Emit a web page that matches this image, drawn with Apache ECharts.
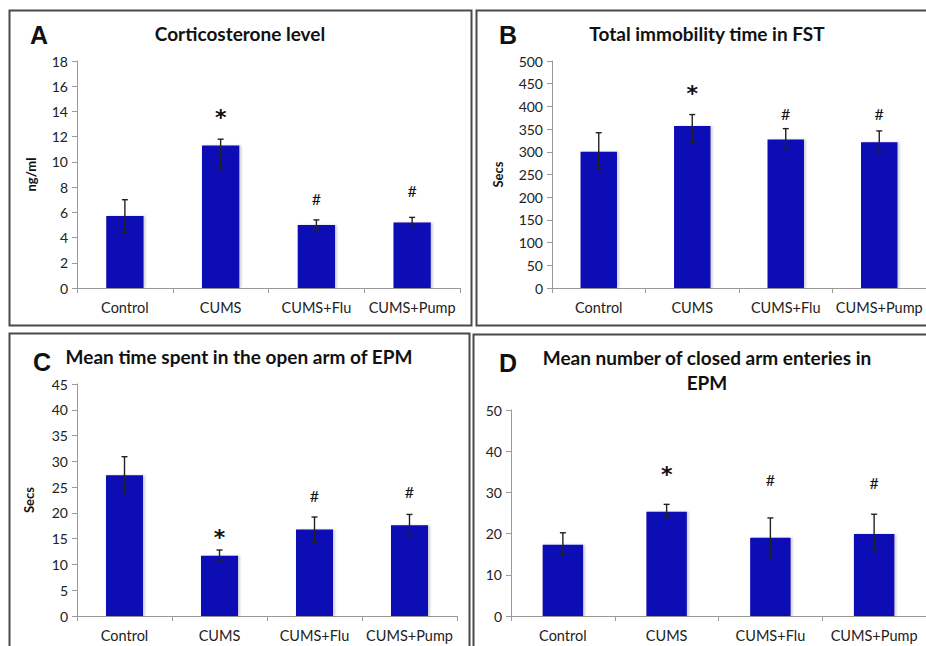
<!DOCTYPE html>
<html>
<head>
<meta charset="utf-8">
<script src="https://cdn.jsdelivr.net/npm/echarts@6/dist/echarts.min.js"></script>
<style>
  html, body { margin: 0; padding: 0; background: #fff; }
  #chart { width: 926px; height: 646px; }
</style>
</head>
<body>
<div id="chart"></div>
<script>
const cats = ['Control', 'CUMS', 'CUMS+Flu', 'CUMS+Pump']

// A - corticosterone (ng/ml)
const cortMean = [5.7, 11.3, 5.0, 5.2]
const cortLow = [4.4, 9.5, 4.6, 4.8]
const cortHigh = [7.0, 11.8, 5.4, 5.6]
const cortMark = ['', '*', '#', '#']
const cortMarkY = [0, 13.8, 7.1, 7.7]

// B - immobility time in FST (secs)
const fstMean = [300, 357, 327, 321]
const fstLow = [263, 321, 306, 297]
const fstHigh = [342, 382, 351, 346]
const fstMark = ['', '*', '#', '#']
const fstMarkY = [0, 437, 385, 385]

// C - time in open arm (secs)
const openMean = [27.3, 11.7, 16.8, 17.6]
const openLow = [23.8, 10.8, 14.3, 15.3]
const openHigh = [30.9, 12.8, 19.2, 19.7]
const openMark = ['', '*', '#', '#']
const openMarkY = [0, 16.0, 23.3, 24.2]

// D - closed arm entries
const closedMean = [17.3, 25.3, 19.0, 19.9]
const closedLow = [15.0, 24.1, 14.3, 15.8]
const closedHigh = [20.2, 27.1, 23.8, 24.7]
const closedMark = ['', '*', '#', '#']
const closedMarkY = [0, 35.2, 33.2, 32.4]

const barColor = '#1109b6'
const font = 'Lato, "Open Sans", sans-serif'

const panels = [
  { mean: cortMean, low: cortLow, high: cortHigh, mark: cortMark, markY: cortMarkY, max: 18, interval: 2, name: 'ng/ml', nameGap: 40,
    grid: { left: 77, top: 61, width: 383, height: 227 } },
  { mean: fstMean, low: fstLow, high: fstHigh, mark: fstMark, markY: fstMarkY, max: 500, interval: 50, name: 'Secs', nameGap: 48,
    grid: { left: 552, top: 61, width: 375, height: 227 } },
  { mean: openMean, low: openLow, high: openHigh, mark: openMark, markY: openMarkY, max: 45, interval: 5, name: 'Secs', nameGap: 42,
    grid: { left: 77, top: 384, width: 380, height: 232 } },
  { mean: closedMean, low: closedLow, high: closedHigh, mark: closedMark, markY: closedMarkY, max: 50, interval: 10, name: '', nameGap: 40,
    grid: { left: 511, top: 410, width: 416, height: 206 } }
]

const grids = []
const xAxes = []
const yAxes = []
const series = []

panels.forEach((p, i) => {
  grids.push(p.grid)
  xAxes.push({
    type: 'category',
    gridIndex: i,
    data: cats,
    axisLine: { lineStyle: { color: '#9a9a9a', width: 1 } },
    axisTick: { show: true, length: 5, lineStyle: { color: '#9a9a9a' } },
    axisLabel: { color: '#222', fontFamily: font, fontSize: 14.5, margin: 12, interval: 0 }
  })
  yAxes.push({
    type: 'value',
    gridIndex: i,
    min: 0,
    max: p.max,
    interval: p.interval,
    name: p.name,
    nameLocation: 'middle',
    nameRotate: 90,
    nameGap: p.nameGap,
    nameTextStyle: { color: '#111', fontFamily: font, fontSize: 13, fontWeight: 'bold' },
    splitLine: { show: false },
    axisLine: { show: true, lineStyle: { color: '#9a9a9a', width: 1 } },
    axisTick: { show: true, length: 5, lineStyle: { color: '#9a9a9a' } },
    axisLabel: { color: '#222', fontFamily: font, fontSize: 14, margin: 9 }
  })
  // bars
  series.push({
    type: 'bar',
    xAxisIndex: i,
    yAxisIndex: i,
    barWidth: '39%',
    data: p.mean,
    itemStyle: {
      color: barColor,
      shadowColor: 'rgba(0,0,0,0.18)',
      shadowOffsetX: 2,
      shadowBlur: 2
    },
    silent: true
  })
  // error bars
  series.push({
    type: 'custom',
    xAxisIndex: i,
    yAxisIndex: i,
    data: p.low.map((l, k) => [k, l, p.high[k]]),
    renderItem: (params, api) => {
      const lo = api.coord([api.value(0), api.value(1)])
      const hi = api.coord([api.value(0), api.value(2)])
      const w = 3
      const style = { stroke: '#222', lineWidth: 1.4 }
      return {
        type: 'group',
        children: [
          { type: 'line', shape: { x1: lo[0], y1: lo[1], x2: hi[0], y2: hi[1] }, style },
          { type: 'line', shape: { x1: lo[0] - w, y1: lo[1], x2: lo[0] + w, y2: lo[1] }, style },
          { type: 'line', shape: { x1: hi[0] - w, y1: hi[1], x2: hi[0] + w, y2: hi[1] }, style }
        ]
      }
    },
    z: 5,
    silent: true
  })
  // significance marks
  series.push({
    type: 'custom',
    xAxisIndex: i,
    yAxisIndex: i,
    data: p.mark.map((m, k) => [k, p.markY[k], m]),
    renderItem: (params, api) => {
      const pt = api.coord([api.value(0), api.value(1)])
      const txt = p.mark[params.dataIndex]
      if (!txt) return null
      const star = txt === '*'
      return {
        type: 'text',
        x: pt[0],
        y: star ? pt[1] + 4 : pt[1],
        style: {
          text: txt,
          fill: '#111',
          align: 'center',
          verticalAlign: 'middle',
          font: star ? 'bold 22px "DejaVu Sans", sans-serif' : '16px ' + font
        }
      }
    },
    silent: true
  })
})

const boxes = [
  { x: 9.5, y: 10.5, width: 462, height: 315 },
  { x: 476.5, y: 10.5, width: 460, height: 315 },
  { x: 9.5, y: 333.5, width: 460, height: 330 },
  { x: 473.5, y: 334.5, width: 460, height: 330 }
]

const titles = [
  { text: 'Corticosterone level', x: 240, y: 33 },
  { text: 'Total immobility time in FST', x: 707, y: 33 },
  { text: 'Mean time spent in the open arm of EPM', x: 239, y: 356 },
  { text: 'Mean number of closed arm enteries in', x: 707, y: 357 },
  { text: 'EPM', x: 707, y: 382 }
]

const letters = [
  { text: 'A', x: 39, y: 35 },
  { text: 'B', x: 508, y: 35 },
  { text: 'C', x: 42, y: 362 },
  { text: 'D', x: 508, y: 363 }
]

const graphic = []
boxes.forEach(b => graphic.push({
  type: 'rect', shape: b, silent: true,
  style: { fill: 'none', stroke: '#4a4a4a', lineWidth: 2 }
}))
titles.forEach(t => graphic.push({
  type: 'text', x: t.x, y: t.y, silent: true,
  style: { text: t.text, fill: '#111', align: 'center', verticalAlign: 'middle', font: 'bold 19px ' + font }
}))
letters.forEach(t => graphic.push({
  type: 'text', x: t.x, y: t.y, silent: true,
  style: { text: t.text, fill: '#111', align: 'center', verticalAlign: 'middle', font: 'bold 25px "Liberation Sans", Arial, sans-serif' }
}))

const myChart = echarts.init(document.getElementById('chart'), null, { renderer: 'svg' })
myChart.setOption({
  animation: false,
  backgroundColor: '#fff',
  grid: grids,
  xAxis: xAxes,
  yAxis: yAxes,
  series: series,
  graphic: graphic
})
</script>
</body>
</html>
